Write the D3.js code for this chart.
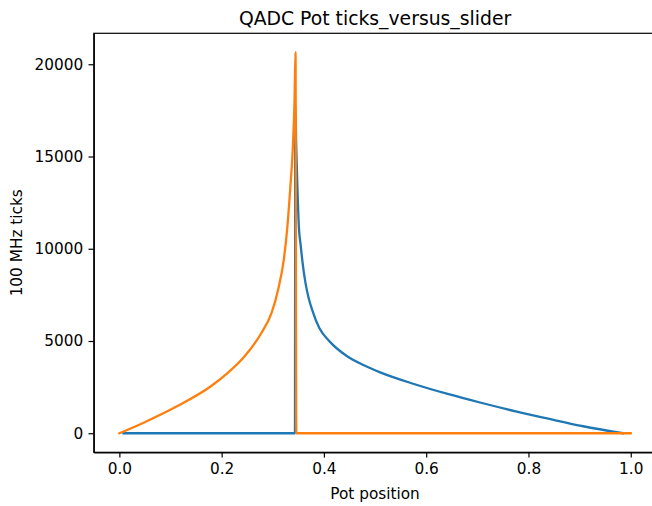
<!DOCTYPE html>
<html>
<head>
<meta charset="utf-8">
<script src="https://cdn.jsdelivr.net/npm/d3@7"></script>
<style>
  body { margin: 0; background: #fff; }
  svg { display: block; font-family: "DejaVu Sans", sans-serif; }
  .axis path, .axis line { stroke: #000; stroke-width: 1.2px; }
  .axis text { font-family: "DejaVu Sans", sans-serif; font-size: 15.3px; fill: #000; }
</style>
</head>
<body>
<script>

// series: pot position vs 100 MHz ticks
var blueX = [0.008, 0.3434, 0.3440, 0.3460, 0.3480, 0.3510, 0.3545, 0.3576, 0.3640, 0.3700, 0.3775, 0.3910, 0.4110, 0.4440, 0.4770, 0.5100, 0.5760, 0.6420, 0.7090, 0.7750, 0.8410, 0.9070, 0.9850];
var blueY = [0, 0, 17800, 15400, 13500, 11200, 10200, 9400, 8140, 7350, 6650, 5700, 4980, 4200, 3700, 3300, 2670, 2130, 1640, 1190, 776, 380, 0];

var orangeX = [0.0, 0.0464, 0.1126, 0.179, 0.212, 0.245, 0.278, 0.298, 0.311, 0.321, 0.328, 0.334, 0.339, 0.3425, 0.3445, 0.3460, 1.0];
var orangeY = [0, 560, 1460, 2545, 3270, 4170, 5450, 6550, 7850, 9300, 11030, 13200, 15360, 18000, 20650, 0, 0];

var xTicks = [0, 0.2, 0.4, 0.6, 0.8, 1.0];
var yTicks = [0, 5000, 10000, 15000, 20000];

var W = 652, H = 506;
// axes box (right edge falls just outside the picture, as in the original)
var margin = {top: 33.3, left: 93.8},
    width = 562.5,
    height = 419;

var x = d3.scaleLinear()
    .domain([-0.05, 1.05])
    .range([0, width]);

var y = d3.scaleLinear()
    .domain([-1032, 21678])
    .range([height, 0]);

var svg = d3.select("body").append("svg")
    .attr("width", W)
    .attr("height", H);

var g = svg.append("g")
    .attr("transform", "translate(" + margin.left + "," + margin.top + ")");

g.append("clipPath").attr("id", "clip")
  .append("rect")
    .attr("width", width)
    .attr("height", height);

var line = d3.line()
    .curve(d3.curveMonotoneX)
    .x(function(d) { return x(d[0]); })
    .y(function(d) { return y(d[1]); });

var series = [
  {name: "blue", color: "#1f77b4", pts: d3.zip(blueX, blueY)},
  {name: "orange", color: "#ff7f0e", pts: d3.zip(orangeX, orangeY)}
];

g.append("g").attr("clip-path", "url(#clip)")
  .selectAll("path")
    .data(series)
  .enter().append("path")
    .attr("d", function(d) { return line(d.pts); })
    .style("fill", "none")
    .style("stroke", function(d) { return d.color; })
    .style("stroke-width", 2.3)
    .style("stroke-linejoin", "round")
    .style("stroke-linecap", "square");

// x axis
var xAxis = d3.axisBottom(x)
    .tickValues(xTicks)
    .tickFormat(d3.format(".1f"))
    .tickSize(5.3)
    .tickPadding(5.3)
    .tickSizeOuter(0);

g.append("g")
    .attr("class", "x axis")
    .attr("transform", "translate(0," + height + ")")
    .call(xAxis);

// y axis
var yAxis = d3.axisLeft(y)
    .tickValues(yTicks)
    .tickFormat(d3.format("d"))
    .tickSize(5.3)
    .tickPadding(5.3)
    .tickSizeOuter(0);

g.append("g")
    .attr("class", "y axis")
    .call(yAxis);

// frame
g.append("rect")
    .attr("width", width)
    .attr("height", height)
    .style("fill", "none")
    .style("stroke", "#000")
    .style("stroke-width", 1.2);

// labels
svg.append("text")
    .attr("x", margin.left + width / 2)
    .attr("y", 25)
    .style("text-anchor", "middle")
    .style("font-size", "18.8px")
    .text("QADC Pot ticks_versus_slider");

svg.append("text")
    .attr("x", margin.left + width / 2)
    .attr("y", 499)
    .style("text-anchor", "middle")
    .style("font-size", "15.3px")
    .text("Pot position");

svg.append("text")
    .attr("transform", "translate(22," + (margin.top + height / 2) + ") rotate(-90)")
    .style("text-anchor", "middle")
    .style("font-size", "15.3px")
    .text("100 MHz ticks");

</script>
</body>
</html>
